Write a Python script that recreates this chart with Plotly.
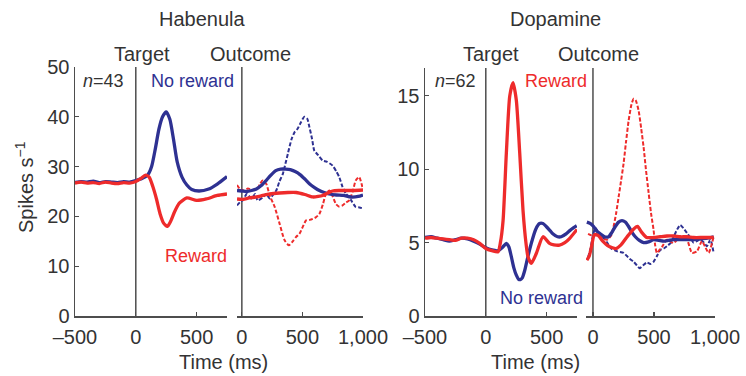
import plotly.graph_objects as go

W, H = 746, 376
BLUE = "#2E3192"
RED = "#EE2B2B"
AX = "#4D4D4D"
TXT = "#333333"
FONT = "Liberation Sans, Arial, sans-serif"

# ---------------- Data ----------------
# Habenula, target-aligned
hab_t_nr_x = [-500,-450,-400,-350,-300,-250,-200,-150,-100,-50,0,50,100,130,160,190,220,250,280,310,340,380,420,460,520,600,670,750]
hab_t_nr_y = [26.8,27.0,26.9,27.1,26.8,27.0,26.9,26.8,27.0,26.9,27.2,27.6,28.4,30.0,33.5,37.5,40.0,41.0,39.5,35.5,31.0,27.9,26.3,25.4,25.1,25.5,26.5,28.0]
hab_t_r_x = [-500,-450,-400,-350,-300,-250,-200,-150,-100,-50,0,40,80,110,140,170,200,230,260,290,320,360,420,500,580,670,750]
hab_t_r_y = [26.7,26.9,26.7,26.8,26.6,26.9,26.7,26.6,26.8,26.7,27.0,27.6,28.3,27.9,26.0,23.5,20.5,18.6,18.0,19.2,21.0,22.7,23.7,23.2,23.5,24.2,24.5]

# Habenula, outcome-aligned
hab_o_nr_x = [-40,0,40,80,120,160,200,240,280,320,360,400,440,480,520,560,600,640,680,720,780,840,900,960,1000]
hab_o_nr_y = [25.2,25.1,25.0,25.2,25.5,26.2,27.2,28.3,29.2,29.5,29.5,29.4,29.0,28.4,27.5,26.5,25.8,25.2,24.8,24.5,24.3,24.2,23.9,24.0,24.3]
hab_o_nrd_x = [-40,-10,10,40,80,110,130,172,200,230,260,284,310,339,360,380,410,435,460,490,516,540,558,580,598,630,667,700,749,780,804,830,858,900,940,970,1000]
hab_o_nrd_y = [22.2,23.0,23.3,24.5,23.6,24.5,23.2,23.8,24.5,23.6,24.4,25.2,27.0,28.6,30.6,32.6,35.5,36.9,37.6,39.0,40.0,39.6,37.9,35.5,33.2,32.3,31.2,31.0,30.2,29.0,27.9,26.0,24.6,23.3,21.9,21.8,21.6]
hab_o_r_x = [-40,0,60,120,172,230,312,380,448,520,585,630,667,710,749,800,858,920,1000]
hab_o_r_y = [23.5,23.4,23.7,23.9,24.2,24.5,24.7,24.8,24.8,24.4,23.9,24.0,24.2,24.7,25.1,25.2,25.2,25.2,25.3]
hab_o_rd_x = [-40,-16,20,50,90,131,150,172,202,230,271,312,353,389,420,448,475,503,530,560,585,610,640,670,694,722,750,776,800,831,860,886,915,940,968,995]
hab_o_rd_y = [26.3,25.5,25.2,25.6,25.3,25.6,26.5,27.2,26.5,24.2,21.9,18.5,15.2,14.2,15.0,15.9,16.5,17.9,19.2,19.3,19.5,19.8,20.5,22.5,24.5,25.2,24.0,22.5,22.0,22.2,22.8,23.2,25.0,27.2,27.9,25.9]

# Dopamine, target-aligned
dop_t_r_x = [-500,-450,-400,-350,-300,-250,-200,-150,-100,-50,0,50,100,120,142,169,197,224,251,279,306,330,347,374,415,470,524,560,606,650,688,750]
dop_t_r_y = [5.3,5.35,5.3,5.25,5.2,5.15,5.3,5.3,5.2,4.95,4.6,4.45,4.37,5.0,6.5,11.1,15.0,15.9,14.7,11.1,7.2,5.0,4.03,3.58,4.26,5.4,4.95,4.85,4.83,5.0,5.28,5.9]
dop_t_nr_x = [-500,-450,-400,-350,-300,-250,-200,-150,-100,-50,0,50,100,140,169,190,210,230,251,270,284,300,320,345,374,410,442,470,497,530,551,590,620,660,688,720,748]
dop_t_nr_y = [5.35,5.4,5.3,5.2,5.1,5.2,5.3,5.25,5.1,4.9,4.65,4.5,4.45,4.7,4.95,4.7,4.04,3.3,2.78,2.5,2.48,2.6,3.1,4.0,4.95,5.9,6.3,6.3,6.1,5.8,5.6,5.4,5.4,5.6,5.8,6.0,6.15]

# Dopamine, outcome-aligned
dop_o_nr_x = [-50,-20,5,30,60,95,128,155,183,210,238,265,292,320,347,380,415,455,497,540,579,620,661,720,770,830,879,940,990]
dop_o_nr_y = [6.4,6.3,6.1,5.8,5.6,5.4,5.4,5.7,6.1,6.4,6.5,6.4,6.1,5.7,5.4,5.15,5.0,5.05,5.2,5.15,5.1,5.15,5.2,5.2,5.2,5.2,5.25,5.3,5.4]
dop_o_r_x = [-50,-30,-10,10,40,80,120,160,190,230,280,330,365,400,440,497,550,606,660,715,770,825,900,990]
dop_o_r_y = [3.8,4.1,4.8,5.5,5.5,5.1,4.8,4.65,4.6,4.85,5.4,5.9,6.1,5.7,5.35,5.35,5.4,5.45,5.45,5.4,5.4,5.35,5.35,5.35]
dop_o_rd_x = [-40,-10,20,60,115,150,169,190,210,230,251,270,292,315,333,350,374,395,415,435,456,476,497,510,524,545,565,606,661,715,770,811,852,893,920,948,989]
dop_o_rd_y = [5.6,5.5,5.6,5.4,5.2,5.5,6.1,7.0,8.1,9.2,10.4,11.8,13.3,14.4,14.8,14.7,14.0,12.8,11.5,9.9,8.4,7.0,5.85,4.8,4.3,4.5,4.7,5.2,4.98,5.4,5.2,4.3,4.4,5.1,4.7,4.3,5.4]
dop_o_nrd_x = [-40,-20,0,20,60,100,150,200,251,300,333,360,382,410,442,470,497,525,551,580,606,640,661,690,715,740,770,800,825,850,879,910,934,962,989]
dop_o_nrd_y = [4.0,4.6,5.5,6.0,5.5,5.2,4.6,4.4,4.3,3.9,3.7,3.45,3.26,3.45,3.65,3.55,3.7,4.1,4.5,4.6,4.76,5.0,5.4,5.9,6.2,6.0,5.67,5.3,5.0,5.1,5.2,5.0,4.76,5.2,4.3]

event_time = [0]
target_ticks = [-500, 0, 500]
target_ticktext = ["\u2013500", "0", "500"]
outcome_ticks = [0, 500, 1000]
outcome_ticktext = ["0", "500", "1,000"]
hab_yticks = [0, 10, 20, 30, 40, 50]
dop_yticks = [0, 5, 10, 15]

# ---------------- Figure ----------------
fig = go.Figure()

def add(x, y, color, xa, ya, dash=None):
    fig.add_trace(go.Scatter(
        x=x, y=y, mode="lines", xaxis=xa, yaxis=ya,
        line=dict(color=color, width=(2 if dash else 3.3), dash=(dash or "solid"),
                  shape="spline", smoothing=0.6),
        hoverinfo="skip", showlegend=False))

DASH = "4px,2px"
add(hab_t_nr_x, hab_t_nr_y, BLUE, "x", "y")
add(hab_t_r_x, hab_t_r_y, RED, "x", "y")
add(hab_o_nrd_x, hab_o_nrd_y, BLUE, "x2", "y", DASH)
add(hab_o_rd_x, hab_o_rd_y, RED, "x2", "y", DASH)
add(hab_o_nr_x, hab_o_nr_y, BLUE, "x2", "y")
add(hab_o_r_x, hab_o_r_y, RED, "x2", "y")

add(dop_t_nr_x, dop_t_nr_y, BLUE, "x3", "y2")
add(dop_t_r_x, dop_t_r_y, RED, "x3", "y2")
add(dop_o_nrd_x, dop_o_nrd_y, BLUE, "x4", "y2", DASH)
add(dop_o_rd_x, dop_o_rd_y, RED, "x4", "y2", DASH)
add(dop_o_nr_x, dop_o_nr_y, BLUE, "x4", "y2")
add(dop_o_r_x, dop_o_r_y, RED, "x4", "y2")

def px(v):
    return v / W

def py(v):
    return 1 - v / H

tickfont = dict(family=FONT, size=20, color=TXT)

def xaxis(dom, rng, tv, tt, anchor):
    return dict(domain=[px(dom[0]), px(dom[1])], range=rng, anchor=anchor, automargin=False,
                showline=True, linecolor=AX, linewidth=1.5, showgrid=False, zeroline=False,
                ticks="inside", ticklen=4, tickcolor=AX, tickwidth=1.2, ticklabelstandoff=2,
                tickvals=tv, ticktext=tt, tickfont=tickfont, fixedrange=True)

def yaxis(dom, rng, tv, anchor):
    return dict(domain=dom, range=rng, anchor=anchor, automargin=False,
                showline=True, linecolor=AX, linewidth=1.5, showgrid=False, zeroline=False,
                ticks="inside", ticklen=4, tickcolor=AX, tickwidth=1.2,
                tickvals=tv, tickfont=tickfont, fixedrange=True)

fig.update_layout(
    template="none",
    width=W, height=H, margin=dict(l=0, r=0, t=0, b=0, pad=0, autoexpand=False),
    paper_bgcolor="white", plot_bgcolor="white", showlegend=False,
    font=dict(family=FONT, color=TXT), hovermode=False,
    xaxis=xaxis((75, 227), [-500, 750], target_ticks, target_ticktext, "y"),
    xaxis2=xaxis((237, 363), [-40, 1000], outcome_ticks, outcome_ticktext, "y"),
    xaxis3=xaxis((425, 577), [-500, 750], target_ticks, target_ticktext, "y2"),
    xaxis4=xaxis((586, 715), [-57, 1000], outcome_ticks, outcome_ticktext, "y2"),
    yaxis=yaxis([py(316), py(67)], [0, 50], hab_yticks, "x"),
    yaxis2=yaxis([py(316), py(68)], [0, 16.9], dop_yticks, "x3"),
)

# event lines (target onset and outcome onset)
for xr, yr in [("x", "y"), ("x2", "y"), ("x3", "y2"), ("x4", "y2")]:
    fig.add_shape(type="line", xref=xr, yref=yr + " domain", x0=event_time[0], x1=event_time[0],
                  y0=0, y1=1, line=dict(color=AX, width=1.5), layer="below")

def ann(text, x, y, size, color=TXT, angle=0):
    fig.add_annotation(text=text, x=px(x), y=py(y), xref="paper", yref="paper",
                       showarrow=False, xanchor="center", yanchor="middle", textangle=angle,
                       font=dict(family=FONT, size=size, color=color))

ann("Habenula", 202, 19, 20)
ann("Dopamine", 555, 19, 20)
ann("Target", 142, 54, 20)
ann("Outcome", 250, 54, 20)
ann("Target", 491, 54, 20)
ann("Outcome", 598, 54, 20)
ann("<i>n</i>=43", 103, 81, 18)
ann("No reward", 192, 81, 18, BLUE)
ann("Reward", 196, 256, 18, RED)
ann("<i>n</i>=62", 455, 81, 18)
ann("Reward", 556, 81, 18, RED)
ann("No reward", 541, 298, 18, BLUE)
ann("Time (ms)", 224, 362, 20)
ann("Time (ms)", 535, 362, 20)
ann("Spikes s<sup>\u22121</sup>", 24, 187, 20, TXT, -90)

fig.write_html("out.html",
               config={"displayModeBar": False, "staticPlot": True},
               post_script="document.body.style.margin='0px';document.body.style.padding='0px';document.body.style.overflow='hidden';")
